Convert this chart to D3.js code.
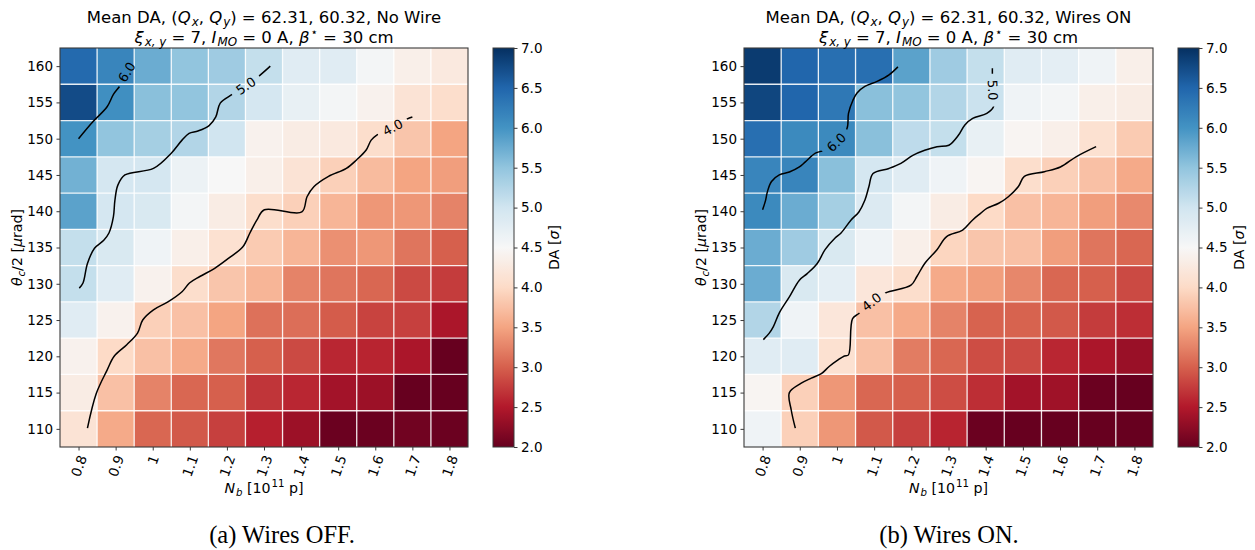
<!DOCTYPE html>
<html>
<head>
<meta charset="utf-8">
<script src="https://cdn.jsdelivr.net/npm/d3@7"></script>
<style>
  body { margin: 0; background: #fff; }
  svg text { font-family: "DejaVu Sans", sans-serif; fill: #000; }
  .caption { font-family: "Liberation Serif", serif; }
</style>
</head>
<body>
<svg id="chart" width="1255" height="550"></svg>
<script>
// ---------- grid axes ----------
const nbValues = [0.8, 0.9, 1.0, 1.1, 1.2, 1.3, 1.4, 1.5, 1.6, 1.7, 1.8];
const nbTickLabels = ["0.8", "0.9", "1", "1.1", "1.2", "1.3", "1.4", "1.5", "1.6", "1.7", "1.8"];
// rows listed top to bottom
const thetaValues = [160, 155, 150, 145, 140, 135, 130, 125, 120, 115, 110];
const daTicks = [2.0, 2.5, 3.0, 3.5, 4.0, 4.5, 5.0, 5.5, 6.0, 6.5, 7.0];
const daRange = [2, 7];
const contourLevels = [4.0, 5.0, 6.0];

// ---------- mean DA [sigma], rows theta 160 -> 110, columns Nb 0.8 -> 1.8 ----------
const daNoWire = [
  [6.45, 6.15, 5.75, 5.50, 5.40, 5.10, 4.80, 4.80, 4.55, 4.35, 4.25],
  [6.75, 6.05, 5.55, 5.50, 5.25, 4.95, 4.70, 4.55, 4.40, 4.15, 4.05],
  [6.00, 5.50, 5.35, 5.25, 5.00, 4.40, 4.30, 4.25, 4.05, 3.80, 3.50],
  [5.70, 4.95, 4.95, 4.65, 4.50, 4.35, 4.15, 3.90, 3.70, 3.50, 3.45],
  [5.85, 4.95, 4.90, 4.55, 4.30, 4.05, 3.90, 3.65, 3.40, 3.40, 3.25],
  [5.10, 4.90, 4.60, 4.35, 4.10, 3.85, 3.65, 3.35, 3.40, 3.15, 3.00],
  [5.10, 4.80, 4.40, 4.05, 3.80, 3.65, 3.25, 3.15, 3.05, 2.85, 2.75],
  [4.80, 4.40, 3.90, 3.75, 3.50, 3.12, 3.10, 2.97, 2.80, 2.78, 2.45],
  [4.40, 4.00, 3.75, 3.55, 3.17, 3.00, 2.85, 2.60, 2.58, 2.45, 2.00],
  [4.30, 3.75, 3.25, 3.05, 3.00, 2.70, 2.60, 2.40, 2.35, 2.00, 2.00],
  [4.15, 3.55, 3.05, 2.95, 2.78, 2.55, 2.35, 2.03, 2.03, 2.07, 2.03]
];
const daWiresOn = [
  [6.90, 6.50, 6.40, 6.40, 5.85, 5.40, 5.10, 4.80, 4.75, 4.60, 4.35],
  [6.80, 6.50, 6.30, 5.55, 5.50, 5.25, 5.05, 4.60, 4.55, 4.35, 4.30],
  [6.40, 6.10, 6.10, 5.55, 5.15, 5.10, 4.70, 4.45, 4.35, 4.10, 3.85],
  [6.15, 6.15, 5.55, 4.95, 4.80, 4.60, 4.45, 4.05, 3.90, 3.75, 3.55],
  [6.10, 5.75, 5.35, 4.85, 4.55, 4.30, 4.00, 3.75, 3.65, 3.45, 3.30],
  [5.75, 5.40, 4.90, 4.60, 4.35, 3.95, 3.80, 3.75, 3.45, 3.15, 3.05],
  [5.75, 4.90, 4.75, 4.20, 4.05, 3.55, 3.45, 3.28, 3.05, 3.00, 2.85],
  [5.25, 4.60, 4.20, 3.75, 3.55, 3.25, 3.02, 3.02, 2.95, 2.75, 2.65],
  [4.80, 4.80, 4.10, 3.75, 3.20, 3.05, 2.87, 2.85, 2.60, 2.45, 2.33],
  [4.45, 3.90, 3.40, 3.05, 3.00, 2.87, 2.65, 2.40, 2.37, 2.03, 2.00],
  [4.60, 3.90, 3.40, 2.95, 2.78, 2.58, 2.03, 2.00, 2.00, 2.00, 2.00]
];

// ---------- iso-DA contours, points as [Nb, theta] ----------
const noWireC6 = [[0.800, 150.0], [0.838, 152.3], [0.877, 154.4], [0.894, 156.1], [0.913, 157.4], [0.930, 159.2], [0.945, 160.0]];
const noWireC5 = [[1.317, 160.0], [1.288, 158.7], [1.251, 157.3], [1.214, 156.1], [1.182, 154.9], [1.170, 153.0], [1.152, 151.8],
  [1.122, 151.06], [1.098, 150.74], [1.079, 149.8], [1.050, 148.0], [1.002, 145.9], [0.925, 145.0], [0.906, 143.6],
  [0.898, 141.5], [0.894, 139.25], [0.882, 137.0], [0.868, 136.0], [0.843, 134.9], [0.824, 132.8], [0.812, 130.1], [0.802, 129.4]];
const noWireC4 = [[1.700, 153.0], [1.685, 152.7], [1.647, 151.57], [1.604, 150.5], [1.589, 149.8], [1.575, 148.4], [1.550, 147.1],
  [1.522, 145.9], [1.474, 144.8], [1.435, 143.4], [1.416, 142.0], [1.402, 139.9], [1.301, 140.2], [1.281, 138.8],
  [1.262, 137.0], [1.243, 135.1], [1.204, 133.5], [1.166, 132.1], [1.127, 131.0], [1.099, 130.1], [1.079, 128.9],
  [1.041, 127.5], [1.002, 126.4], [0.973, 125.0], [0.959, 123.2], [0.930, 121.6], [0.896, 120.0], [0.877, 118.1],
  [0.848, 114.9], [0.824, 110.1]];
const noWireLabelAt = [[6.0, 0.930, 159.2], [5.0, 1.251, 157.3], [4.0, 1.647, 151.57]];

const wiresOnC6 = [[1.164, 159.9], [1.140, 158.8], [1.108, 157.9], [1.075, 157.2], [1.054, 156.3], [1.043, 155.3], [1.031, 153.5],
  [1.027, 151.4], [0.998, 149.5], [0.965, 148.4], [0.942, 148.0], [0.915, 146.8], [0.899, 146.1], [0.872, 145.4],
  [0.845, 145.0], [0.824, 144.1], [0.813, 142.7], [0.808, 141.5], [0.800, 140.2]];
const wiresOnC5 = [[1.418, 159.7], [1.418, 159.0], [1.419, 156.7], [1.421, 154.4], [1.403, 153.5], [1.365, 152.8], [1.344, 151.9],
  [1.327, 150.5], [1.301, 149.1], [1.269, 148.9], [1.236, 148.4], [1.204, 147.7], [1.172, 146.6], [1.140, 145.9],
  [1.097, 145.2], [1.086, 143.4], [1.075, 141.5], [1.059, 139.9], [1.038, 138.8], [1.011, 137.0], [0.995, 136.3],
  [0.968, 134.7], [0.947, 132.8], [0.920, 131.4], [0.899, 130.5], [0.872, 128.2], [0.845, 126.0], [0.829, 124.1],
  [0.818, 123.2], [0.802, 122.3]];
const wiresOnC4 = [[1.697, 148.9], [1.643, 147.5], [1.601, 146.1], [1.558, 145.45], [1.504, 144.8], [1.488, 143.4], [1.461, 142.0],
  [1.435, 141.1], [1.403, 140.4], [1.386, 139.7], [1.365, 138.8], [1.338, 137.4], [1.295, 136.5], [1.269, 134.7],
  [1.236, 132.8], [1.215, 131.0], [1.199, 129.8], [1.129, 128.7], [1.093, 127.5], [1.059, 125.9], [1.042, 125.2],
  [1.031, 120.2], [1.020, 120.05], [1.003, 119.5], [0.979, 118.6], [0.958, 117.6], [0.931, 117.0], [0.904, 116.3],
  [0.872, 115.0], [0.877, 112.6], [0.888, 110.1]];
const wiresOnLabelAt = [[6.0, 0.998, 149.5], [5.0, 1.419, 156.7], [4.0, 1.093, 127.5]];

// ---------- layout ----------
const PLOT_TOP = 48, PLOT_BOTTOM = 447;
const TICK = 3.5, PAD = 3.5;
const FS_TICK = 13.5, FS_TITLE = 16.5, FS_LABEL = 14.2, FS_CLABEL = 13;

const panels = [
  { id: "a", data: daNoWire, lines: [noWireC4, noWireC5, noWireC6], labels: noWireLabelAt,
    tail: "No Wire", caption: "(a) Wires OFF.", x0: 60, x1: 468, cb0: 493, cb1: 514, capX: 282 },
  { id: "b", data: daWiresOn, lines: [wiresOnC4, wiresOnC5, wiresOnC6], labels: wiresOnLabelAt,
    tail: "Wires ON", caption: "(b) Wires ON.", x0: 744, x1: 1153, cb0: 1178, cb1: 1199, capX: 949 }
];

// matplotlib-style RdBu: linear segments between the ColorBrewer anchors
const color = d3.scaleLinear()
  .domain(d3.range(11).map(i => daRange[0] + i * (daRange[1] - daRange[0]) / 10))
  .range(d3.schemeRdBu[11])
  .interpolate(d3.interpolateRgb)
  .clamp(true);

const svg = d3.select("#chart");
const defs = svg.append("defs");

// text with italic / sub / superscript pieces (mathtext-like spacing)
function richText(sel, parts, fs) {
  let shift = 0;
  parts.forEach(([t, st]) => {
    const italic = st === "i" || st === "subi";
    const isSub = st.startsWith("sub");
    const isSup = st.startsWith("sup");
    const target = isSub ? 0.24 * fs : isSup ? -0.42 * fs : 0;
    sel.append("tspan").text(t)
      .attr("font-size", (isSub || isSup) ? fs * 0.72 : fs)
      .attr("font-style", italic ? "italic" : "normal")
      .attr("dx", (isSub || isSup) ? fs * 0.06 : 0)
      .attr("dy", target - shift);
    shift = target;
  });
}

panels.forEach(p => {
  const g = svg.append("g");
  const x = d3.scaleLinear().domain([0.75, 1.85]).range([p.x0, p.x1]);
  const y = d3.scaleLinear().domain([107.5, 162.5]).range([PLOT_BOTTOM, PLOT_TOP]);
  const half = 0.05, halfT = 2.5;

  // heatmap cells
  const cells = [];
  p.data.forEach((row, r) => row.forEach((v, c) => cells.push({ nb: nbValues[c], th: thetaValues[r], v })));
  g.append("g").selectAll("rect").data(cells).join("rect")
    .attr("x", d => x(d.nb - half))
    .attr("y", d => y(d.th + halfT))
    .attr("width", d => x(d.nb + half) - x(d.nb - half))
    .attr("height", d => y(d.th - halfT) - y(d.th + halfT))
    .attr("fill", d => color(d.v))
    .attr("shape-rendering", "crispEdges");

  // white cell separators
  const grid = g.append("g").attr("stroke", "#fff").attr("stroke-width", 1.3).attr("stroke-opacity", 0.9);
  nbValues.slice(0, -1).forEach(nb => {
    grid.append("line").attr("x1", x(nb + half)).attr("x2", x(nb + half)).attr("y1", PLOT_TOP).attr("y2", PLOT_BOTTOM);
  });
  thetaValues.slice(0, -1).forEach(th => {
    grid.append("line").attr("y1", y(th - halfT)).attr("y2", y(th - halfT)).attr("x1", p.x0).attr("x2", p.x1);
  });

  // contour lines, with gaps under the inline labels
  const line = d3.line().x(d => x(d[0])).y(d => y(d[1])).curve(d3.curveCatmullRom.alpha(0.5));
  const mask = defs.append("mask").attr("id", "gap-" + p.id)
    .attr("maskUnits", "userSpaceOnUse").attr("x", 0).attr("y", 0).attr("width", 1255).attr("height", 550);
  mask.append("rect").attr("x", 0).attr("y", 0).attr("width", 1255).attr("height", 550).attr("fill", "#fff");

  const labelG = g.append("g");
  p.labels.forEach(([level, nb, th]) => {
    const pts = p.lines[contourLevels.indexOf(level)];
    const px = x(nb), py = y(th);
    let best = 0, bd = Infinity;
    pts.forEach((q, i) => { const d = Math.hypot(x(q[0]) - px, y(q[1]) - py); if (d < bd) { bd = d; best = i; } });
    const a = pts[Math.max(0, best - 1)], b = pts[Math.min(pts.length - 1, best + 1)];
    let ang = Math.atan2(y(b[1]) - y(a[1]), x(b[0]) - x(a[0])) * 180 / Math.PI;
    if (ang > 90) ang -= 180;
    if (ang <= -90) ang += 180;
    const t = labelG.append("text")
      .attr("transform", `translate(${px},${py}) rotate(${ang})`)
      .attr("text-anchor", "middle").attr("dy", "0.36em")
      .attr("font-size", FS_CLABEL)
      .text(d3.format(".1f")(level));
    const L = t.node().getComputedTextLength();
    mask.append("rect")
      .attr("transform", `translate(${px},${py}) rotate(${ang})`)
      .attr("x", -(L / 2 + 6)).attr("y", -8).attr("width", L + 12).attr("height", 16)
      .attr("fill", "#000");
  });
  g.insert("g", () => labelG.node())
    .attr("mask", `url(#gap-${p.id})`)
    .selectAll("path").data(p.lines).join("path")
    .attr("d", line)
    .attr("fill", "none").attr("stroke", "#000").attr("stroke-width", 1.5);

  // frame
  g.append("rect").attr("x", p.x0).attr("y", PLOT_TOP)
    .attr("width", p.x1 - p.x0).attr("height", PLOT_BOTTOM - PLOT_TOP)
    .attr("fill", "none").attr("stroke", "#3a3a3a").attr("stroke-width", 1.1);

  // x axis with rotated tick labels
  const xa = g.append("g").attr("transform", `translate(0,${PLOT_BOTTOM})`)
    .call(d3.axisBottom(x).tickValues(nbValues).tickSize(TICK).tickFormat((d, i) => nbTickLabels[i]));
  xa.select(".domain").remove();
  xa.selectAll(".tick line").attr("stroke", "#3a3a3a");
  xa.selectAll(".tick text").each(function () {
    const s = d3.select(this);
    s.attr("font-size", FS_TICK).attr("font-family", "DejaVu Sans").attr("fill", "#000");
    const L = this.getComputedTextLength();
    const rad = 70 * Math.PI / 180;
    const ext = L * Math.sin(rad) + FS_TICK * 0.8 * Math.cos(rad);
    s.attr("x", 0).attr("y", 0).attr("dy", "0.35em").attr("text-anchor", "middle")
      .attr("transform", `translate(0,${TICK + PAD + ext / 2}) rotate(-70)`);
  });

  // y axis
  const ya = g.append("g").attr("transform", `translate(${p.x0},0)`)
    .call(d3.axisLeft(y).tickValues(thetaValues).tickSize(TICK).tickPadding(PAD));
  ya.select(".domain").remove();
  ya.selectAll(".tick line").attr("stroke", "#3a3a3a");
  ya.selectAll(".tick text").attr("font-size", FS_TICK).attr("font-family", "DejaVu Sans").attr("fill", "#000");

  // titles
  const cx = (p.x0 + p.x1) / 2;
  const t1 = g.append("text").attr("x", cx).attr("y", 22.5).attr("text-anchor", "middle");
  richText(t1, [["Mean DA, (", ""], ["Q", "i"], ["x", "subi"], [", ", ""], ["Q", "i"], ["y", "subi"],
    [") = 62.31, 60.32, " + p.tail, ""]], FS_TITLE);
  const t2 = g.append("text").attr("x", cx).attr("y", 42.5).attr("text-anchor", "middle");
  richText(t2, [["ξ", "i"], ["x, y", "subi"], [" = 7, ", ""], ["I", "i"], ["MO", "subi"], [" = 0 A, ", ""],
    ["β", "i"], ["⋆", "sup"], [" = 30 cm", ""]], FS_TITLE);

  // axis labels
  const xl = g.append("text").attr("x", cx).attr("y", 493).attr("text-anchor", "middle");
  richText(xl, [["N", "i"], ["b", "subi"], [" [10", ""], ["11", "sup"], [" p]", ""]], FS_LABEL);
  const yl = g.append("text").attr("text-anchor", "middle")
    .attr("transform", `translate(${p.x0 - 38},${(PLOT_TOP + PLOT_BOTTOM) / 2}) rotate(-90)`);
  richText(yl, [["θ", "i"], ["c", "subi"], ["/2 [", ""], ["μ", "i"], ["rad]", ""]], FS_LABEL);

  // colour bar
  const grad = defs.append("linearGradient").attr("id", "cbar-" + p.id)
    .attr("x1", 0).attr("y1", 1).attr("x2", 0).attr("y2", 0);
  d3.range(0, 101).forEach(i => {
    grad.append("stop").attr("offset", i / 100)
      .attr("stop-color", color(daRange[0] + (daRange[1] - daRange[0]) * i / 100));
  });
  const cs = d3.scaleLinear().domain(daRange).range([PLOT_BOTTOM, PLOT_TOP]);
  g.append("rect").attr("x", p.cb0).attr("y", PLOT_TOP)
    .attr("width", p.cb1 - p.cb0).attr("height", PLOT_BOTTOM - PLOT_TOP)
    .attr("fill", `url(#cbar-${p.id})`).attr("stroke", "#3a3a3a").attr("stroke-width", 1);
  const ca = g.append("g").attr("transform", `translate(${p.cb1},0)`)
    .call(d3.axisRight(cs).tickValues(daTicks).tickFormat(d3.format(".1f")).tickSize(TICK).tickPadding(PAD));
  ca.select(".domain").remove();
  ca.selectAll(".tick line").attr("stroke", "#3a3a3a");
  ca.selectAll(".tick text").attr("font-size", FS_TICK).attr("font-family", "DejaVu Sans").attr("fill", "#000");
  const cl = g.append("text").attr("text-anchor", "middle")
    .attr("transform", `translate(${p.cb1 + 45},${(PLOT_TOP + PLOT_BOTTOM) / 2}) rotate(-90)`);
  richText(cl, [["DA [", ""], ["σ", "i"], ["]", ""]], FS_LABEL);

  // sub-figure caption
  g.append("text").attr("class", "caption").attr("x", p.capX).attr("y", 543)
    .attr("text-anchor", "middle").attr("font-size", 24.5).text(p.caption);
});
</script>
</body>
</html>
